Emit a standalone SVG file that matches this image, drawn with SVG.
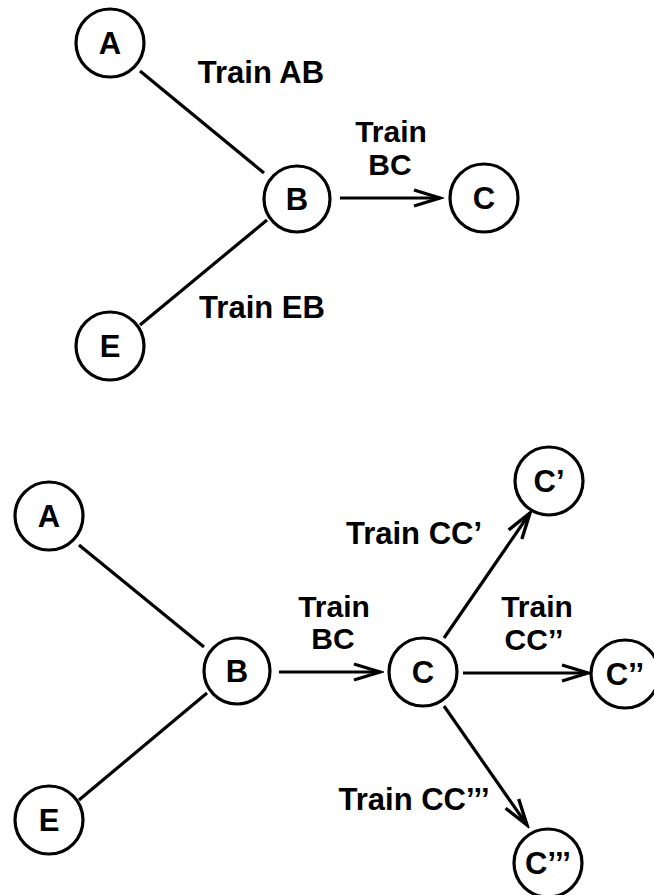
<svg xmlns="http://www.w3.org/2000/svg" width="654" height="895" viewBox="0 0 654 895">
<style>
.n{fill:#fff;stroke:#000;stroke-width:3.2}
.t{font-family:"Liberation Sans",Arial,sans-serif;font-weight:bold;font-size:30px;fill:#000;text-anchor:middle}
.w{font-size:31px}
.e{stroke:#000;stroke-width:3.2;fill:none}
</style>
<defs>
<marker id="arr" markerUnits="userSpaceOnUse" viewBox="-30 -12 34 24" refX="0" refY="0" markerWidth="34" markerHeight="24" orient="auto">
<path d="M-26,-8 L0,0 L-26,8" fill="none" stroke="#000" stroke-width="3.4" stroke-linejoin="miter"/>
</marker>
</defs>
<rect width="654" height="895" fill="#fff"/>
<g id="connectors">
<line class="e" x1="140" y1="71" x2="264" y2="173"/>
<line class="e" x1="140" y1="325" x2="267" y2="220"/>
<line class="e" x1="340" y1="198" x2="440" y2="198" marker-end="url(#arr)"/>
<line class="e" x1="79" y1="545" x2="204" y2="647"/>
<line class="e" x1="79" y1="800" x2="207" y2="693"/>
<line class="e" x1="279" y1="672" x2="380" y2="672" marker-end="url(#arr)"/>
<line class="e" x1="444" y1="638" x2="530" y2="513" marker-end="url(#arr)"/>
<line class="e" x1="463" y1="673" x2="588" y2="673" marker-end="url(#arr)"/>
<line class="e" x1="444" y1="706" x2="527" y2="825" marker-end="url(#arr)"/>
</g>
<g id="labels">
<text class="t w" x="261" y="83">Train AB</text>
<text class="t" x="391" y="142">Train</text>
<text class="t" x="390" y="175">BC</text>
<text class="t w" x="262" y="318">Train EB</text>
<text class="t w" x="414" y="544">Train CC’</text>
<text class="t" x="334" y="617">Train</text>
<text class="t" x="333" y="649">BC</text>
<text class="t" x="537" y="617">Train</text>
<text class="t" x="534" y="650">CC’’</text>
<text class="t w" x="414" y="810">Train CC’’’</text>
</g>
<g id="top-A"><circle class="n" cx="110" cy="43" r="34"/><text class="t w" x="110" y="54">A</text></g>
<g id="top-B"><circle class="n" cx="297" cy="199" r="33"/><text class="t w" x="297" y="210">B</text></g>
<g id="top-C"><circle class="n" cx="484" cy="198" r="34"/><text class="t w" x="484" y="209">C</text></g>
<g id="top-E"><circle class="n" cx="110" cy="346" r="34"/><text class="t w" x="110" y="357">E</text></g>
<g id="bot-A"><circle class="n" cx="49" cy="516" r="34"/><text class="t w" x="49" y="527">A</text></g>
<g id="bot-B"><circle class="n" cx="237" cy="671" r="33"/><text class="t w" x="237" y="682">B</text></g>
<g id="bot-C"><circle class="n" cx="423" cy="672" r="34"/><text class="t w" x="423" y="683">C</text></g>
<g id="bot-C1"><circle class="n" cx="549" cy="481" r="34"/><text class="t w" x="549" y="492">C’</text></g>
<g id="bot-C2"><circle class="n" cx="625" cy="674" r="34"/><text class="t w" x="625" y="685">C’’</text></g>
<g id="bot-C3"><circle class="n" cx="548" cy="863" r="34"/><text class="t w" x="548" y="874">C’’’</text></g>
<g id="bot-E"><circle class="n" cx="49" cy="820" r="34"/><text class="t w" x="49" y="831">E</text></g>
</svg>
